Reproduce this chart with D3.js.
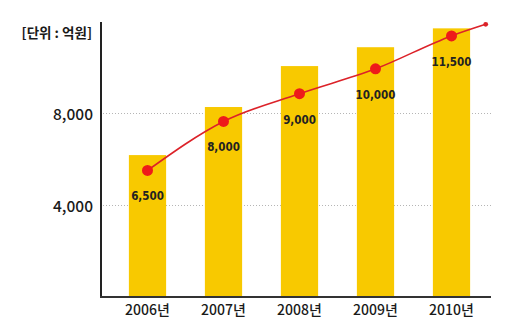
<!DOCTYPE html>
<html>
<head>
<meta charset="utf-8">
<script src="https://cdn.jsdelivr.net/npm/d3@7"></script>
<style>
  body { margin: 0; background: #fff; }
  svg { display: block; }
</style>
</head>
<body>
<svg id="chart" width="520" height="336"></svg>
<script>
// Yearly figures (unit: 100 million won)
const years = ["2006", "2007", "2008", "2009", "2010"];
const barValues = [6170, 8260, 10040, 10860, 11680];
const lineValues = [6500, 8000, 9000, 10000, 11500];
const yTicks = [4000, 8000];
const unitLabel = "[단위 : 억원]";
const yearSuffix = "년";

const svg = d3.select("#chart");
const plotLeft = 101, plotRight = 491, plotTop = 21, plotBottom = 297;

const x = d3.scaleBand()
  .domain(years)
  .range([109.5, 489.5])
  .paddingInner(0.51)
  .paddingOuter(0.255);

// primary axis for the bars
const y = d3.scaleLinear().domain([0, 12000]).range([plotBottom, plotTop]);
// secondary (unlabelled, logarithmic) axis for the trend line
const yLine = d3.scaleLog().domain([3800, 12250]).range([plotBottom, plotTop]);

const fmt = d3.format(",");
const krFont = "'Noto Sans CJK KR', 'Noto Sans', sans-serif";

// dotted gridlines
svg.append("g")
  .attr("transform", `translate(${plotLeft},0)`)
  .call(d3.axisLeft(y).tickValues(yTicks).tickSize(-(plotRight - plotLeft - 1)).tickFormat(""))
  .call(g => g.select(".domain").remove())
  .call(g => g.selectAll("line")
    .attr("stroke", "#b5b5b5")
    .attr("stroke-width", 1)
    .attr("stroke-dasharray", "1,2")
    .attr("transform", "translate(2,0)"));

// bars
svg.append("g").selectAll("rect")
  .data(years)
  .join("rect")
  .attr("x", d => x(d))
  .attr("width", x.bandwidth())
  .attr("y", (d, i) => y(barValues[i]))
  .attr("height", (d, i) => y(0) - y(barValues[i]))
  .attr("fill", "#f8c900");

// y tick labels
svg.append("g")
  .attr("transform", `translate(${plotLeft},0)`)
  .call(d3.axisLeft(y).tickValues(yTicks).tickSize(0).tickPadding(8).tickFormat(fmt))
  .call(g => g.select(".domain").remove())
  .call(g => g.selectAll("text")
    .attr("font-family", krFont)
    .attr("font-size", 15.5)
    .attr("font-weight", 500)
    .attr("fill", "#1a1a1a")
    .attr("dy", "0.45em"));

// x axis labels
svg.append("g")
  .attr("transform", `translate(0,${plotBottom})`)
  .call(d3.axisBottom(x).tickSize(0).tickPadding(8).tickFormat(d => d + yearSuffix))
  .call(g => g.select(".domain").remove())
  .call(g => g.selectAll("text")
    .attr("font-family", krFont)
    .attr("font-size", 14)
    .attr("font-weight", 500)
    .attr("fill", "#1a1a1a"));

// axis lines
svg.append("line")
  .attr("x1", plotLeft).attr("x2", plotLeft)
  .attr("y1", plotTop + 1).attr("y2", plotBottom + 1)
  .attr("stroke", "#222").attr("stroke-width", 2);
svg.append("line")
  .attr("x1", plotLeft - 1).attr("x2", plotRight)
  .attr("y1", plotBottom).attr("y2", plotBottom)
  .attr("stroke", "#333").attr("stroke-width", 2);

// unit caption
svg.append("text")
  .attr("x", 92).attr("y", 38)
  .attr("text-anchor", "end")
  .attr("font-family", krFont)
  .attr("font-size", 13.5)
  .attr("font-weight", 700)
  .attr("fill", "#1a1a1a")
  .text(unitLabel);

// trend line points, with a short extension past the last year
const pts = years.map((d, i) => [x(d) + x.bandwidth() / 2, yLine(lineValues[i])]);
const n = pts.length;
const stepX = pts[n - 1][0] - pts[n - 2][0];
const stepY = (pts[n - 1][1] - pts[n - 3][1]) / 2;
const tip = [pts[n - 1][0] + 0.45 * stepX, pts[n - 1][1] + 0.4 * stepY];

svg.append("path")
  .datum(pts.concat([tip]))
  .attr("d", d3.line().curve(d3.curveMonotoneX))
  .attr("fill", "none")
  .attr("stroke", "#dc2229")
  .attr("stroke-width", 1.6);

svg.append("circle")
  .attr("cx", tip[0]).attr("cy", tip[1]).attr("r", 2.4)
  .attr("fill", "#dc2229");

svg.append("g").selectAll("circle")
  .data(pts)
  .join("circle")
  .attr("cx", d => d[0])
  .attr("cy", d => d[1])
  .attr("r", 5.5)
  .attr("fill", "#ee1a1a");

// value labels under each point
svg.append("g").selectAll("text")
  .data(pts)
  .join("text")
  .attr("x", d => d[0])
  .attr("y", d => d[1] + 30)
  .attr("text-anchor", "middle")
  .attr("font-family", "'Liberation Sans Narrow', 'DejaVu Sans Condensed', sans-serif")
  .attr("font-size", 11.5)
  .attr("font-weight", 700)
  .attr("fill", "#222")
  .text((d, i) => fmt(lineValues[i]));
</script>
</body>
</html>
